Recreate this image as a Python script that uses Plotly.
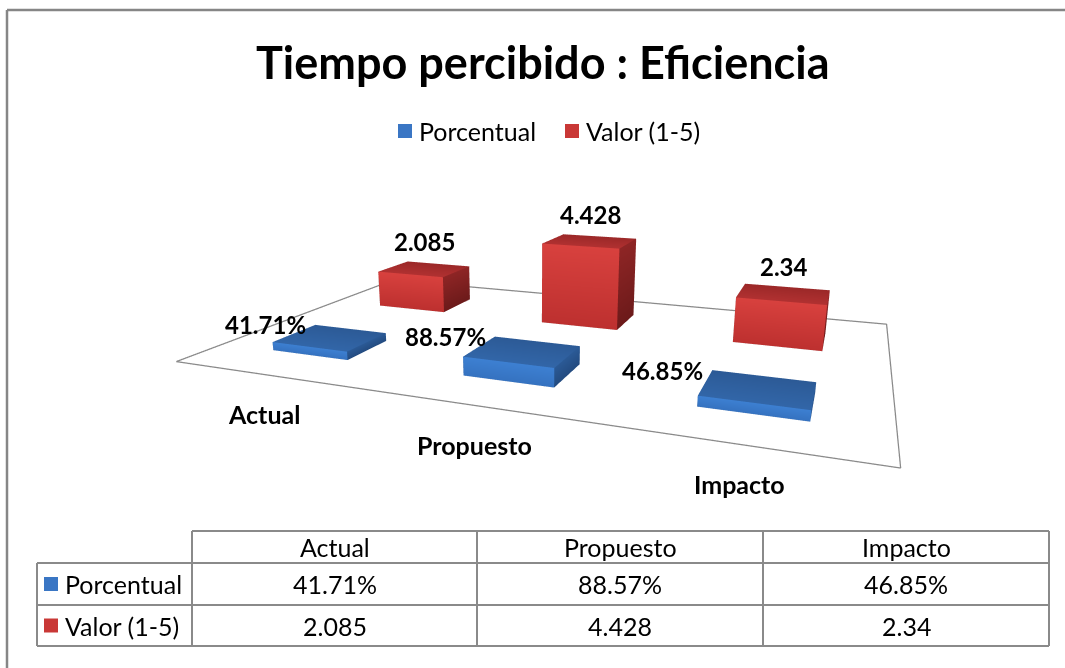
import plotly.graph_objects as go

# ---- data -------------------------------------------------------------
categories = ["Actual", "Propuesto", "Impacto"]
series_names = ["Porcentual", "Valor (1-5)"]
porcentual = [0.4171, 0.8857, 0.4685]
valor = [2.085, 4.428, 2.34]

series_values = [porcentual, valor]
series_fmt = [lambda v: f"{v * 100:.2f}%", lambda v: f"{v:g}"]

# ---- styling ----------------------------------------------------------
W, H = 1065, 668
FONT = "Lato"
GRID = "#8a8a8a"

# gradient colours per series: front (top, bottom), top (front, back), side (top, bottom)
palette = [
    dict(front=("#3d80d2", "#3572c0"), top=("#3266a8", "#2c5a96"),
         side=("#2b5a96", "#234b80"), key="#3a76c4"),
    dict(front=("#d8413e", "#bd302f"), top=("#b13131", "#9b2828"),
         side=("#8e2525", "#6c1a1a"), key="#c93836"),
]

BAR_W = 0.207    # half width along the category axis
BAR_D = 0.176    # half depth along the series axis


def px(x):
    return x / W


def py(y):
    return 1 - y / H


def cuboid(x0, x1, y0, y1, z0, z1, pal):
    """Return vertices, triangles and per-vertex colours of a box."""
    ft, fb = pal["front"]
    tf, tb = pal["top"]
    st, sb = pal["side"]
    faces = [
        # front face (toward the viewer)
        ([(x0, y0, z0), (x1, y0, z0), (x1, y0, z1), (x0, y0, z1)], [fb, fb, ft, ft]),
        # top face
        ([(x0, y0, z1), (x1, y0, z1), (x1, y1, z1), (x0, y1, z1)], [tf, tf, tb, tb]),
        # right side
        ([(x1, y0, z0), (x1, y1, z0), (x1, y1, z1), (x1, y0, z1)], [sb, sb, st, st]),
        # left side
        ([(x0, y0, z0), (x0, y1, z0), (x0, y1, z1), (x0, y0, z1)], [sb, sb, st, st]),
        # back face
        ([(x0, y1, z0), (x1, y1, z0), (x1, y1, z1), (x0, y1, z1)], [sb, sb, st, st]),
        # bottom
        ([(x0, y0, z0), (x1, y0, z0), (x1, y1, z0), (x0, y1, z0)], [sb, sb, sb, sb]),
    ]
    xs, ys, zs, cols, ii, jj, kk = [], [], [], [], [], [], []
    for verts, vc in faces:
        base = len(xs)
        for (vx, vy, vz), c in zip(verts, vc):
            xs.append(vx)
            ys.append(vy)
            zs.append(vz)
            cols.append(c)
        ii += [base, base]
        jj += [base + 1, base + 2]
        kk += [base + 2, base + 3]
    return xs, ys, zs, cols, ii, jj, kk


fig = go.Figure()

n_cat = len(categories)
n_ser = len(series_names)

# floor outline
fig.add_trace(go.Scatter3d(
    x=[0, n_cat, n_cat, 0, 0], y=[0, 0, n_ser, n_ser, 0], z=[0, 0, 0, 0, 0],
    mode="lines", line=dict(color=GRID, width=2.5),
    hoverinfo="skip", showlegend=False,
))

# bars: one mesh per series
for s, (name, vals) in enumerate(zip(series_names, series_values)):
    X, Y, Z, C, I, J, K = [], [], [], [], [], [], []
    yc = s + 0.5
    for c, v in enumerate(vals):
        xc = c + 0.5
        xs, ys, zs, cols, ii, jj, kk = cuboid(xc - BAR_W, xc + BAR_W,
                                              yc - BAR_D, yc + BAR_D,
                                              0, v, palette[s])
        off = len(X)
        X += xs
        Y += ys
        Z += zs
        C += cols
        I += [a + off for a in ii]
        J += [a + off for a in jj]
        K += [a + off for a in kk]
    fig.add_trace(go.Mesh3d(
        x=X, y=Y, z=Z, i=I, j=J, k=K, vertexcolor=C, name=name,
        flatshading=True,
        lighting=dict(ambient=1.0, diffuse=0.0, specular=0.0,
                      roughness=1.0, fresnel=0.0),
        hoverinfo="skip", showlegend=False,
    ))

# value labels and category labels, anchored in the 3D scene
label_font = dict(family=FONT, size=24, color="black", weight="bold")
scene_ann = []
for c, v in enumerate(porcentual):
    # percentage labels sit just left of the back-left top corner of each slab
    scene_ann.append(dict(
        x=c + 0.5 - BAR_W, y=0.5 + BAR_D, z=v, text=series_fmt[0](v),
        showarrow=False, font=label_font, xanchor="right", yanchor="middle",
        xshift=-7,
    ))
for c, v in enumerate(valor):
    # value labels float above the top face
    scene_ann.append(dict(
        x=c + 0.5, y=1.5, z=v, text=series_fmt[1](v),
        showarrow=False, font=label_font, xanchor="center", yanchor="middle",
        yshift=27,
    ))
for c, cat in enumerate(categories):
    scene_ann.append(dict(
        x=c + 0.5, y=0, z=0, text=cat, showarrow=False,
        font=dict(family=FONT, size=25, color="black", weight="bold"),
        xshift=-2, yshift=-39,
    ))

# ---- layout annotations and shapes -------------------------------------
annotations = []
shapes = []

# chart border
shapes.append(dict(type="line", xref="paper", yref="paper",
                   x0=px(7), x1=px(W), y0=py(10), y1=py(10),
                   line=dict(color="#868686", width=2.5)))
shapes.append(dict(type="line", xref="paper", yref="paper",
                   x0=px(7), x1=px(7), y0=py(10), y1=py(H),
                   line=dict(color="#868686", width=2.5)))

# title
annotations.append(dict(
    text="<b>Tiempo percibido : Eficiencia</b>", x=px(543), y=py(62),
    xref="paper", yref="paper", showarrow=False, xanchor="center", yanchor="middle",
    font=dict(family=FONT, size=45, color="black"),
))

# legend
legend_x = [398, 565]
for s, name in enumerate(series_names):
    x0 = legend_x[s]
    shapes.append(dict(type="rect", xref="paper", yref="paper",
                       x0=px(x0), x1=px(x0 + 14), y0=py(138), y1=py(124),
                       fillcolor=palette[s]["key"], line=dict(width=0)))
    annotations.append(dict(
        text=name, x=px(x0 + 19), y=py(131), xref="paper", yref="paper",
        showarrow=False, xanchor="left", yanchor="middle",
        font=dict(family=FONT, size=25, color="black"),
    ))

# data table
col_edges = [37, 192, 477, 763, 1049]
row_edges = [531, 563, 605, 646]
line_style = dict(color=GRID, width=2)
# horizontal lines
shapes.append(dict(type="line", xref="paper", yref="paper",
                   x0=px(col_edges[1]), x1=px(col_edges[-1]),
                   y0=py(row_edges[0]), y1=py(row_edges[0]), line=line_style))
for r in row_edges[1:]:
    shapes.append(dict(type="line", xref="paper", yref="paper",
                       x0=px(col_edges[0]), x1=px(col_edges[-1]),
                       y0=py(r), y1=py(r), line=line_style))
# vertical lines
shapes.append(dict(type="line", xref="paper", yref="paper",
                   x0=px(col_edges[0]), x1=px(col_edges[0]),
                   y0=py(row_edges[1]), y1=py(row_edges[-1]), line=line_style))
for cx in col_edges[1:]:
    shapes.append(dict(type="line", xref="paper", yref="paper",
                       x0=px(cx), x1=px(cx),
                       y0=py(row_edges[0]), y1=py(row_edges[-1]), line=line_style))

table_font = dict(family=FONT, size=25, color="black")
# header row
for c, cat in enumerate(categories):
    xm = (col_edges[c + 1] + col_edges[c + 2]) / 2
    ym = (row_edges[0] + row_edges[1]) / 2
    annotations.append(dict(text=cat, x=px(xm), y=py(ym), xref="paper", yref="paper",
                            showarrow=False, xanchor="center", yanchor="middle",
                            font=table_font))
# body rows
for s, (name, vals) in enumerate(zip(series_names, series_values)):
    ym = (row_edges[s + 1] + row_edges[s + 2]) / 2
    shapes.append(dict(type="rect", xref="paper", yref="paper",
                       x0=px(44), x1=px(58), y0=py(ym + 7), y1=py(ym - 7),
                       fillcolor=palette[s]["key"], line=dict(width=0)))
    annotations.append(dict(text=name, x=px(63), y=py(ym), xref="paper", yref="paper",
                            showarrow=False, xanchor="left", yanchor="middle",
                            font=table_font))
    for c, v in enumerate(vals):
        xm = (col_edges[c + 1] + col_edges[c + 2]) / 2
        annotations.append(dict(text=series_fmt[s](v), x=px(xm), y=py(ym),
                                xref="paper", yref="paper", showarrow=False,
                                xanchor="center", yanchor="middle", font=table_font))

hidden_axis = dict(visible=False, showgrid=False, zeroline=False,
                   showbackground=False, showspikes=False)

fig.update_layout(
    width=W, height=H,
    margin=dict(l=0, r=0, t=0, b=0),
    paper_bgcolor="white",
    showlegend=False,
    scene=dict(
        domain=dict(x=[0, 1], y=[0, 1]),
        xaxis=dict(range=[0, n_cat], **hidden_axis),
        yaxis=dict(range=[0, n_ser], **hidden_axis),
        zaxis=dict(range=[0, 5], **hidden_axis),
        aspectmode="manual",
        aspectratio=dict(x=2.4, y=1.503, z=0.382),
        camera=dict(eye=dict(x=1.020, y=-2.857, z=0.708),
                    center=dict(x=-0.037, y=-0.190, z=-0.114),
                    up=dict(x=0, y=0, z=1),
                    projection=dict(type="perspective")),
        bgcolor="rgba(0,0,0,0)",
        annotations=scene_ann,
    ),
    annotations=annotations,
    shapes=shapes,
)

fig.write_html("out.html")
